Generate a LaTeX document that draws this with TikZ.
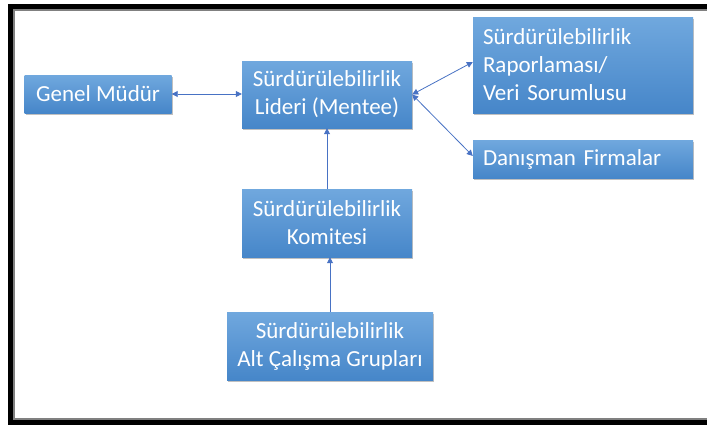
\documentclass[tikz,border=0pt]{standalone}
\usepackage{fontspec}
\setmainfont{Carlito}
\usepackage{xcolor}
\usetikzlibrary{arrows.meta,
	positioning,
	shadows}

\definecolor{boxtop}{RGB}{112,168,222}
\definecolor{boxbottom}{RGB}{70,134,201}
\definecolor{linkblue}{RGB}{72,114,196}

\tikzset{
	unitbox/.style={draw=none, top color=boxtop, bottom color=boxbottom,
		text=white, inner sep=0pt, align=center,
		font=\fontsize{23}{28}\selectfont,
		drop shadow={shadow xshift=1pt, shadow yshift=-1.5pt, opacity=0.35, fill=black!70}},
	sidebox/.style={unitbox, align=left, inner xsep=10pt, text width=200pt},
	link/.style={draw=linkblue, line width=0.8pt, {Triangle[length=6pt,width=6pt]}-{Triangle[length=6pt,width=6pt]}},
	uplink/.style={draw=linkblue, line width=0.8pt, -{Triangle[length=6pt,width=6pt]}}
}

\begin{document}
\begin{tikzpicture}[x=1pt, y=-1pt]

        \useasboundingbox (0,0) rectangle (707,426);
        \fill[white] (0,0) rectangle (707,426);

        \draw[line width=5pt] (707,6)--(10.5,6)--(10.5,422.5)--(707,422.5);
        \draw[gray, line width=1.5pt] (707,9.8)--(14,9.8)--(14,418.8)--(707,418.8);

        \node[unitbox, minimum width=147pt, minimum height=38pt] (genel) at(98,94) {Genel Müdür};
        \node[unitbox, minimum width=170pt, minimum height=67pt] (lider) at(327,94.5) {Sürdürülebilirlik\\Lideri (Mentee)};
        \node[sidebox, minimum height=96pt] (rapor) at(583,65) {Sürdürülebilirlik\\Raporlaması/\\Veri Sorumlusu};
        \node[sidebox, minimum height=38pt] (danis) at(583,159) {Danışman Firmalar};
        \node[unitbox, minimum width=170pt, minimum height=68pt] (komite) at(327,223) {Sürdürülebilirlik\\Komitesi};
        \node[unitbox, minimum width=206pt, minimum height=68pt] (alt) at(330,346) {Sürdürülebilirlik\\Alt Çalışma Grupları};

        \draw[link] (genel.east) -- (genel.east -| lider.west);
        \draw[link] (lider.east) -- ([yshift=3pt]rapor.west);
        \draw[link] (lider.east) -- ([yshift=3pt]danis.west);
        \draw[uplink] (komite.north) -- (lider.south);
        \draw[uplink] (alt.north) -- (alt.north |- komite.south);

    \end{tikzpicture}
\end{document}
